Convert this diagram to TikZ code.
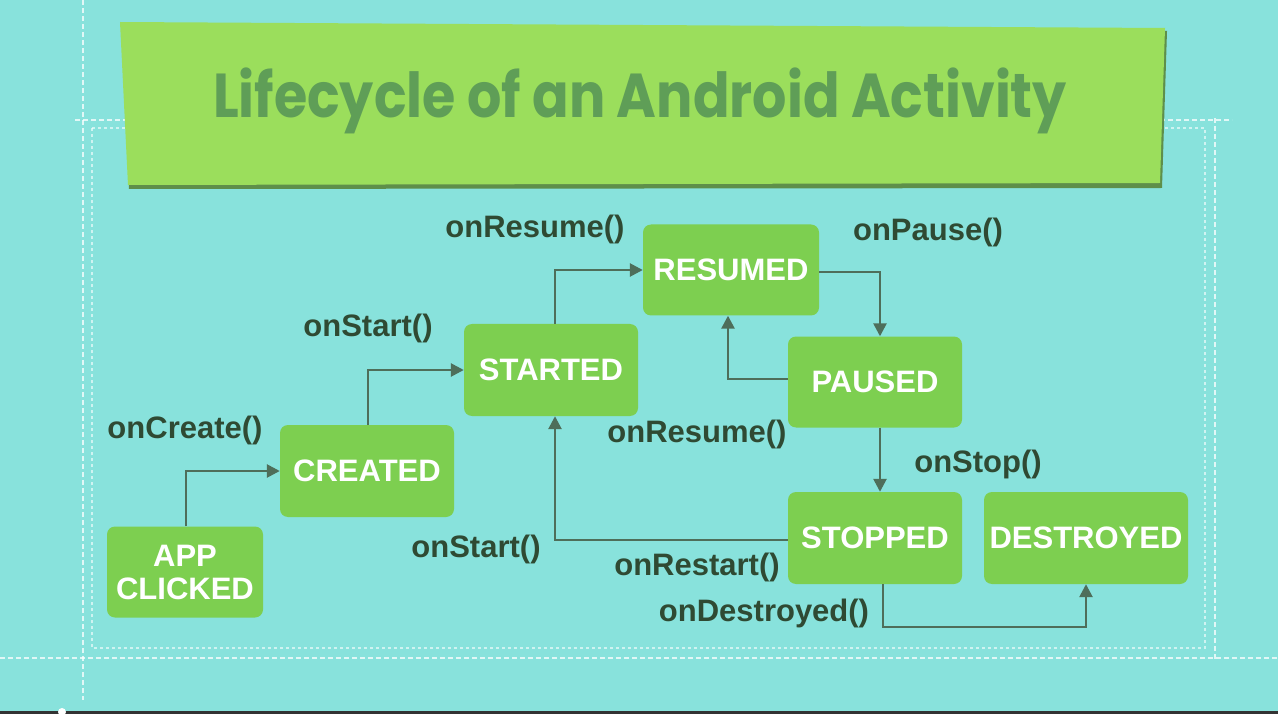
\documentclass[tikz,border=0pt]{standalone}
\usepackage{fontspec}
\setmainfont{Liberation Sans}
\newfontfamily\titlefont{Poppins}
\usetikzlibrary{arrows.meta}
\definecolor{bgc}{HTML}{88E2DC}
\definecolor{boxc}{HTML}{7DCF50}
\definecolor{banc}{HTML}{9BDE5C}
\definecolor{banshadow}{HTML}{5E8F4A}
\definecolor{titc}{HTML}{5F9E57}
\definecolor{labc}{HTML}{2F4A33}
\definecolor{arrc}{HTML}{4E6E5A}
\tikzset{
  state/.style={fill=boxc, rounded corners=8pt, text=white, font=\fontsize{31}{35}\selectfont\bfseries, align=center, inner sep=0pt},
  lab/.style={text=labc, font=\fontsize{31}{35}\selectfont\bfseries, inner sep=0pt},
  conn/.style={draw=arrc, line width=2.6pt, -{Triangle[length=13pt,width=13pt]}},
  outerdash/.style={draw=white, opacity=0.75, line width=2pt, dash pattern=on 5pt off 3pt},
  innerdash/.style={draw=white, opacity=0.6, line width=2.5pt, dash pattern=on 3pt off 3pt}
}
\begin{document}
\begin{tikzpicture}[x=1pt,y=-1pt]
\fill[bgc] (0,0) rectangle (1278,714);
\useasboundingbox (0,0) rectangle (1278,714);
% decorative border lines
\draw[outerdash] (83,0) -- (83,700);
\draw[outerdash] (0,658) -- (1278,658);
\draw[outerdash] (75,120) -- (130,120);
\draw[outerdash] (1160,120) -- (1232,120);
\draw[outerdash] (1215,118) -- (1215,660);
\draw[innerdash] (92,128) -- (92,648) -- (1205,648) -- (1205,128) -- (1160,128);
\draw[innerdash] (92,128) -- (125,128);
% bottom strip
\fill[black!80] (0,711) rectangle (1278,714);
\fill[white] (62,712) circle (4pt);
% banner
\fill[banshadow] (122,25) -- (1167,31) -- (1162,188) -- (129,189) -- cycle;
\fill[banc] (120,22) -- (1165,28) -- (1160,183) -- (128,185) -- cycle;
\node[text=titc, font=\titlefont\fontsize{62}{70}\selectfont\bfseries, xscale=0.87] (title) at (640,101) {Lifecycle of an Android Activity};
% states
\node[state, minimum width=156pt, minimum height=91pt] (app) at (185,572) {APP\\[-2pt]CLICKED};
\node[state, minimum width=174pt, minimum height=92pt] (created) at (367,471) {CREATED};
\node[state, minimum width=174pt, minimum height=92pt] (started) at (551,370) {STARTED};
\node[state, minimum width=176pt, minimum height=91pt] (resumed) at (731,270) {RESUMED};
\node[state, minimum width=174pt, minimum height=91pt] (paused) at (875,382) {PAUSED};
\node[state, minimum width=174pt, minimum height=92pt] (stopped) at (875,538) {STOPPED};
\node[state, minimum width=204pt, minimum height=92pt] (destroyed) at (1086,538) {DESTROYED};
% connectors
\draw[conn] ([xshift=1pt]app.north) |- (created.west);
\draw[conn] ([xshift=1pt]created.north) |- (started.west);
\draw[conn] ([xshift=4pt]started.north) |- (resumed.west);
\draw[conn] ([yshift=-2pt]resumed.east) -| ([xshift=5pt]paused.north);
\draw[conn] ([yshift=3pt]paused.west) -| ([xshift=-3pt]resumed.south);
\draw[conn] ([xshift=5pt]paused.south) -- ([xshift=5pt]stopped.north);
\draw[conn] ([yshift=-2pt]stopped.west) -| ([xshift=4pt]started.south);
\coordinate (dd) at (883,627);
\draw[conn] ([xshift=8pt]stopped.south) -- (dd) -| (destroyed.south);
% labels
\node[lab] (l1) at (535,229) {onResume()};
\node[lab] (l2) at (928,232) {onPause()};
\node[lab] (l3) at (368,328) {onStart()};
\node[lab] (l4) at (185,430) {onCreate()};
\node[lab] (l5) at (697,434) {onResume()};
\node[lab] (l6) at (978,464) {onStop()};
\node[lab] (l7) at (476,549) {onStart()};
\node[lab] (l8) at (697,567) {onRestart()};
\node[lab] (l9) at (764,613) {onDestroyed()};
\end{tikzpicture}
\end{document}
